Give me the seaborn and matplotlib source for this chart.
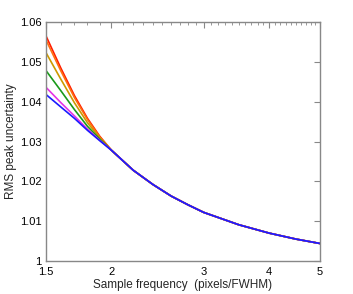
import numpy as np
import pandas as pd
import matplotlib
matplotlib.use("Agg")
import matplotlib.pyplot as plt
import matplotlib.ticker as mticker
import seaborn as sns

# ---- data ----
freq_head = [1.5, 1.6, 1.7, 1.8, 1.9]
freq_tail = [2.0, 2.2, 2.4, 2.6, 2.8, 3.0, 3.5, 4.0, 4.5, 5.0]

# shared part of every curve (x >= 2)
tail = [1.0278, 1.0228, 1.0192, 1.0163, 1.0141, 1.0122, 1.0091, 1.0070, 1.0055, 1.0044]

red_head = [1.0565, 1.0485, 1.0415, 1.0358, 1.0313]
orange_head = [1.0555, 1.0478, 1.0410, 1.0355, 1.0311]
gold_head = [1.0523, 1.0457, 1.0397, 1.0347, 1.0309]
green_head = [1.0478, 1.0428, 1.0380, 1.0338, 1.0306]
magenta_head = [1.0436, 1.0398, 1.0364, 1.0331, 1.0303]
blue_head = [1.0418, 1.0387, 1.0358, 1.0328, 1.0302]

series = {
    "red": red_head,
    "orange": orange_head,
    "gold": gold_head,
    "green": green_head,
    "magenta": magenta_head,
    "blue": blue_head,
}
colors = {
    "red": "#ff1a00",
    "orange": "#ff7010",
    "gold": "#cc9900",
    "green": "#1a9a1a",
    "magenta": "#e633e6",
    "blue": "#1a1aff",
}

rows = []
for name, head in series.items():
    for f, v in zip(freq_head + freq_tail, head + tail):
        rows.append({"freq": f, "rms": v, "curve": name})
df = pd.DataFrame(rows)

# ---- plot ----
sns.set_style("white")
plt.rcParams["font.family"] = ["Liberation Sans", "DejaVu Sans"]
plt.rcParams["font.size"] = 8

fig = plt.figure(figsize=(3.53, 2.94), dpi=100)
ax = fig.add_axes([0.1303, 0.1122, 0.7762, 0.8130])

sns.lineplot(data=df, x="freq", y="rms", hue="curve", palette=colors,
             hue_order=list(series.keys()), linewidth=1.2, legend=False,
             sort=False, ax=ax)

ax.set_xscale("log")
ax.set_xlim(1.5, 5)
ax.set_ylim(1.0, 1.06)

ax.xaxis.set_major_locator(mticker.FixedLocator([1.5, 2, 3, 4, 5]))
ax.xaxis.set_major_formatter(mticker.FixedFormatter(["1.5", "2", "3", "4", "5"]))
ax.xaxis.set_minor_locator(mticker.FixedLocator(np.arange(1.6, 5.0, 0.1)))
ax.xaxis.set_minor_formatter(mticker.NullFormatter())
ax.yaxis.set_major_locator(mticker.FixedLocator([1.0, 1.01, 1.02, 1.03, 1.04, 1.05, 1.06]))
ax.yaxis.set_major_formatter(mticker.FixedFormatter(["1", "1.01", "1.02", "1.03", "1.04", "1.05", "1.06"]))

ax.tick_params(which="both", direction="in", top=True, right=True,
               color="#888888", labelsize=8, labelcolor="black")
ax.tick_params(axis="x", pad=4)
ax.tick_params(axis="y", pad=3)
ax.tick_params(which="major", length=4, width=0.8)
ax.tick_params(which="minor", length=2, width=0.6)

for s in ax.spines.values():
    s.set_color("#888888")
    s.set_linewidth(1.0)

ax.set_xlabel("Sample frequency  (pixels/FWHM)", fontsize=8.5, labelpad=2)
ax.set_ylabel("RMS peak uncertainty", fontsize=8.5, labelpad=2)

fig.savefig("out.png", dpi=100)
